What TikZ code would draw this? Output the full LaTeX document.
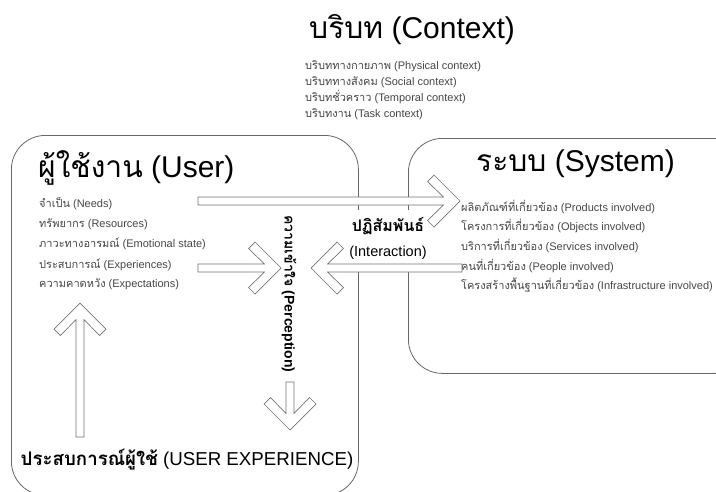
\documentclass[tikz,border=0pt]{standalone}
\usepackage{fontspec}
\setmainfont{Liberation Sans}
\newfontfamily\tf[Script=Thai]{Loma}

% Hollow block arrow: #1 tail coordinate, #2 direction angle, #3 length to tip
\newcommand\blockarrow[3]{%
  \begin{scope}[shift={(#1)},rotate=#2]
    \draw[arrowline] (0,-4) -- ({#3-16.7},-4) -- ({#3-32.4},-19.6) -- ({#3-26},-26)
      -- (#3,0) -- ({#3-26},26) -- ({#3-32.4},19.6) -- ({#3-16.7},4) -- (0,4) -- cycle;
  \end{scope}}

\tikzset{
  boxline/.style={draw=black!60, line width=0.8pt, rounded corners=34pt, inner sep=0pt},
  arrowline/.style={draw=black!55, line width=0.7pt, fill=white, line join=miter},
  item/.style={anchor=base west, inner sep=0pt, text=black!72, font=\fontsize{11}{13}\selectfont},
  heading/.style={anchor=base west, inner sep=0pt, font=\fontsize{30}{34}\selectfont},
}

\begin{document}
\begin{tikzpicture}[x=1pt, y=-1pt]
  \useasboundingbox[fill=white] (0,0) rectangle (716,491);

  % the two frames
  \node[boxline, anchor=north west, minimum width=347pt, minimum height=360pt] (user) at (11,135) {};
  \node[boxline, anchor=north west, minimum width=340pt, minimum height=235pt] (system) at (408,138) {};

  % context
  \node[heading] (ctx) at (309,38) {{\tf บริบท} (Context)};
  \node[item] (c1) at (305,69) {{\tf บริบททางกายภาพ} (Physical context)};
  \node[item] (c2) at (305,85) {{\tf บริบททางสังคม} (Social context)};
  \node[item] (c3) at (305,101) {{\tf บริบทชั่วคราว} (Temporal context)};
  \node[item] (c4) at (305,117) {{\tf บริบทงาน} (Task context)};

  % user
  \node[heading] (usr) at (38,177) {{\tf ผู้ใช้งาน} (User)};
  \node[item] (u1) at (39,207) {{\tf จำเป็น} (Needs)};
  \node[item] (u2) at (39,227) {{\tf ทรัพยากร} (Resources)};
  \node[item] (u3) at (39,247) {{\tf ภาวะทางอารมณ์} (Emotional state)};
  \node[item] (u4) at (39,268) {{\tf ประสบการณ์} (Experiences)};
  \node[item] (u5) at (39,287) {{\tf ความคาดหวัง} (Expectations)};

  % system
  \node[heading] (sys) at (476,171) {{\tf ระบบ} (System)};
  \node[item] (s1) at (461,211) {{\tf ผลิตภัณฑ์ที่เกี่ยวข้อง} (Products involved)};
  \node[item] (s2) at (461,230) {{\tf โครงการที่เกี่ยวข้อง} (Objects involved)};
  \node[item] (s3) at (461,250) {{\tf บริการที่เกี่ยวข้อง} (Services involved)};
  \node[item] (s4) at (461,270) {{\tf คนที่เกี่ยวข้อง} (People involved)};
  \node[item] (s5) at (461,289) {{\tf โครงสร้างพื้นฐานที่เกี่ยวข้อง} (Infrastructure involved)};

  % interaction label, blanking the frame edges behind it
  \node[fill=white, inner sep=0pt, minimum width=86pt, minimum height=57pt, align=center,
        font=\fontsize{14.5}{17}\selectfont] (inter) at (388,238)
        {{\tf\bfseries\fontsize{16}{17}\selectfont ปฏิสัมพันธ์}\\[8pt](Interaction)};

  % arrows
  \coordinate (ta) at (198,201);
  \coordinate (tb) at (198,268);
  \coordinate (tc) at (462,268);
  \coordinate (td) at (290,382);
  \coordinate (te) at (80,437);
  \blockarrow{ta}{0}{262}
  \blockarrow{tb}{0}{83}
  \blockarrow{tc}{180}{151}
  \blockarrow{td}{270}{48}
  \blockarrow{te}{90}{134}

  % perception, set vertically
  \node[rotate=-90, inner sep=0pt, font=\fontsize{14}{16}\selectfont\bfseries] (perc) at (289,294)
        {{\tf ความเข้าใจ} (Perception)};

  % user experience caption
  \node[inner sep=0pt, font=\fontsize{18.7}{22}\selectfont] (ux) at (187,460)
        {{\tf\bfseries ประสบการณ์ผู้ใช้} (USER EXPERIENCE)};
\end{tikzpicture}
\end{document}
